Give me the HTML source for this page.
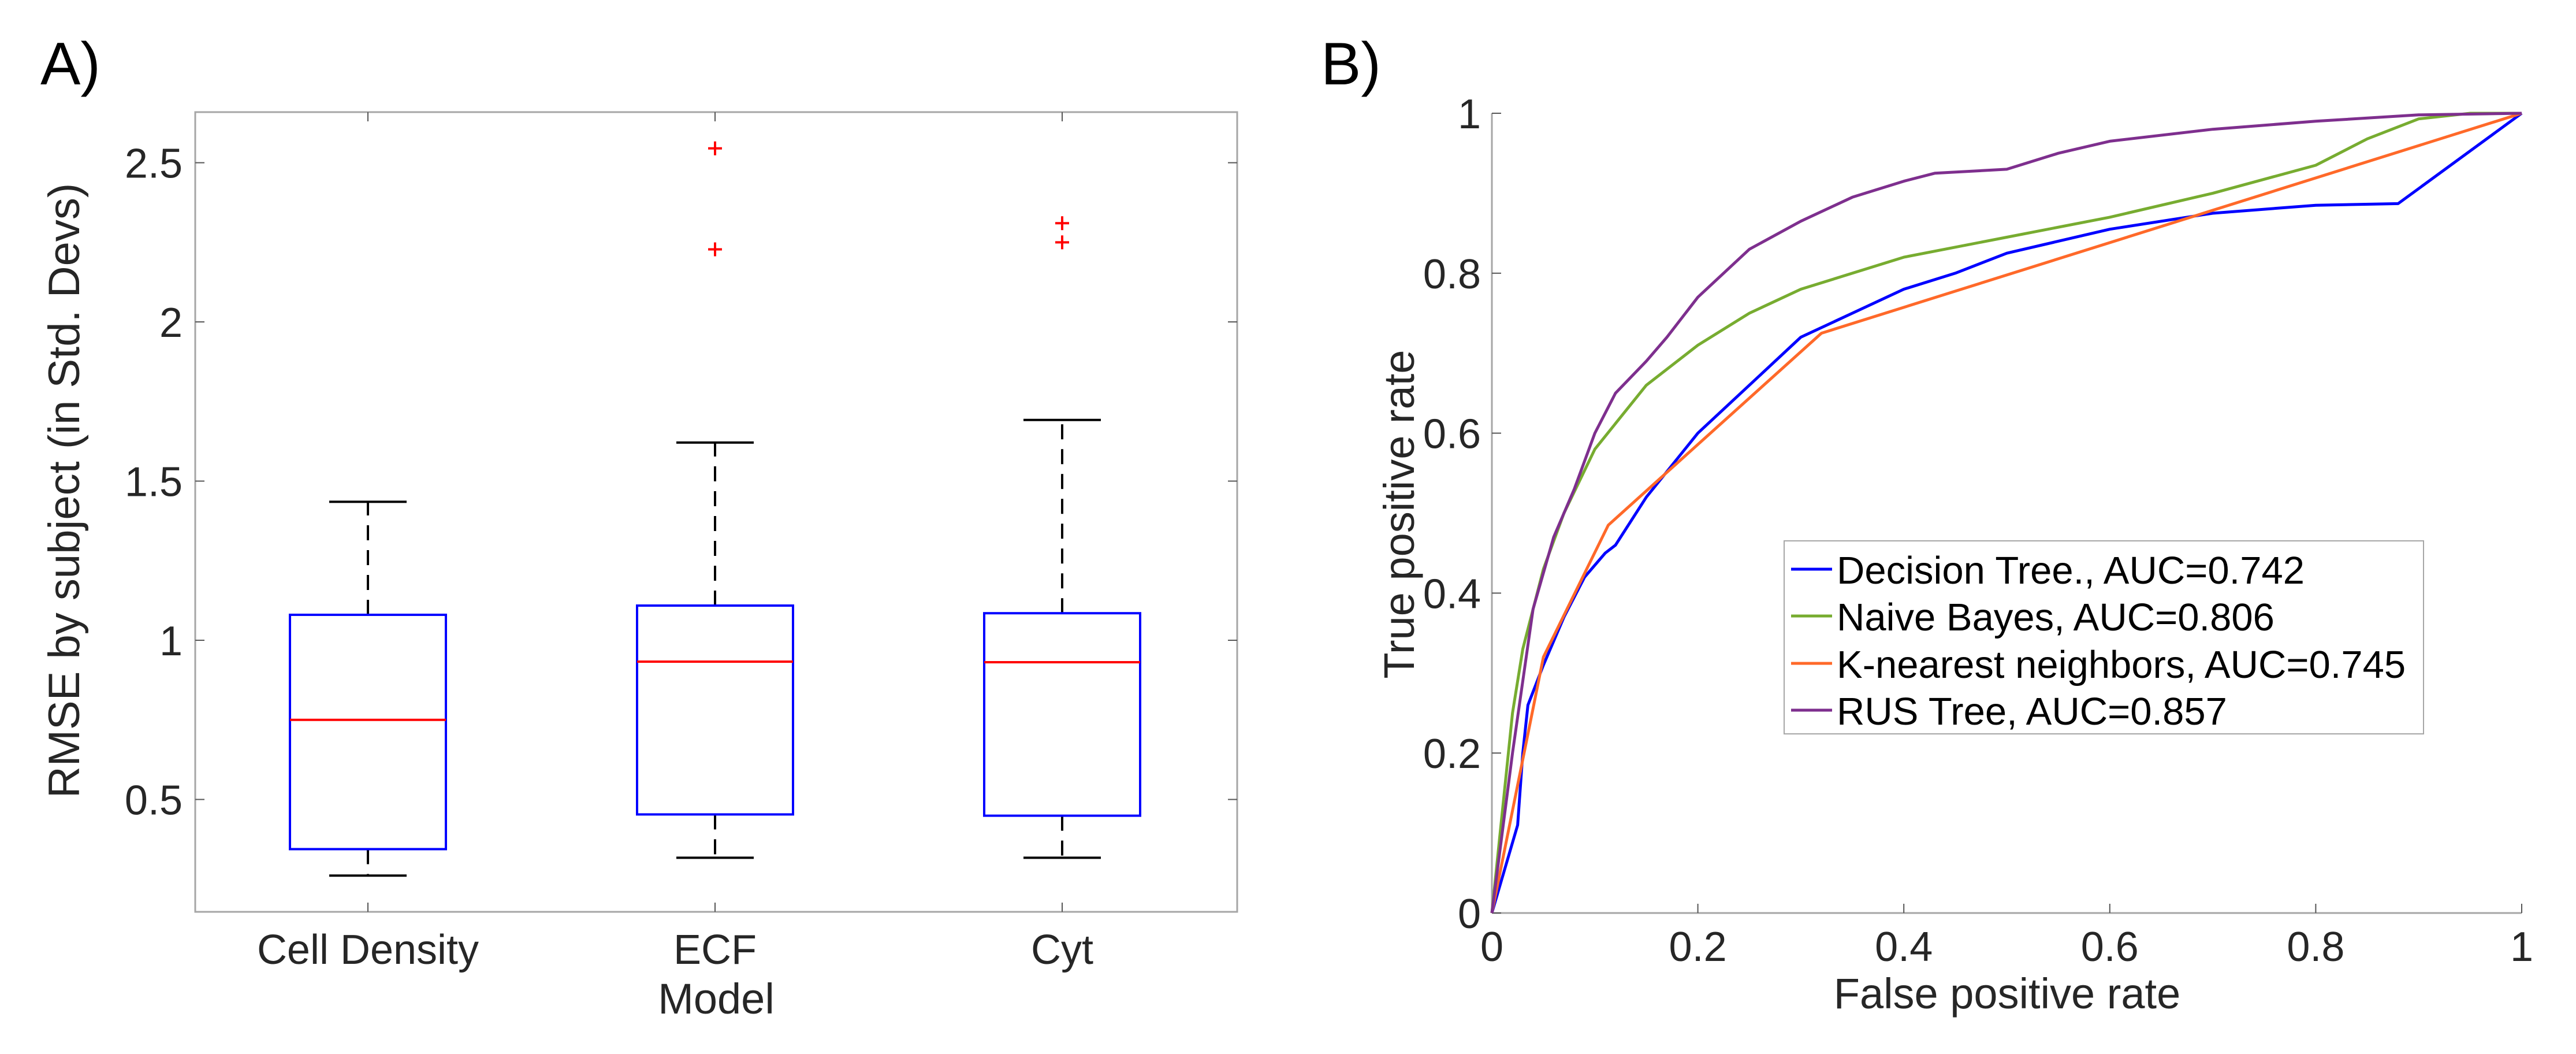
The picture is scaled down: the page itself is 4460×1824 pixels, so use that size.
<!DOCTYPE html>
<html><head><meta charset="utf-8"><style>
html,body{margin:0;padding:0;background:#fff;}
svg{display:block;font-family:"Liberation Sans",sans-serif;}
</style></head><body>
<svg id="fig" width="4460" height="1824" viewBox="0 0 4460 1824" xmlns="http://www.w3.org/2000/svg">
<rect width="4460" height="1824" fill="#fff"/>
<text x="70" y="146" font-size="104" fill="#000">A)</text>
<text x="2287" y="146" font-size="104" fill="#000">B)</text>
<g id="boxplot"></g>
<g id="roc"></g>
</svg>
<script>
// ---- Box plot data ----
const boxCategories = ["Cell Density", "ECF", "Cyt"];
const whiskerLow = [0.261, 0.317, 0.317];
const q1Values = [0.344, 0.453, 0.449];
const medianValues = [0.750, 0.933, 0.931];
const q3Values = [1.080, 1.109, 1.085];
const whiskerHigh = [1.435, 1.621, 1.692];
const outlierValues = [[], [2.545, 2.228], [2.31, 2.25]];
const boxYTicks = [0.5, 1, 1.5, 2, 2.5];
const boxYTickLabels = ["0.5", "1", "1.5", "2", "2.5"];

// ---- ROC data ----
const rocLabels = ["Decision Tree., AUC=0.742", "Naive Bayes, AUC=0.806", "K-nearest neighbors, AUC=0.745", "RUS Tree, AUC=0.857"];
const rocColors = ["#0000ff", "#77ac30", "#ff6929", "#7e2f8e"];
const dtFpr = [0,0.025,0.03,0.035,0.05,0.07,0.09,0.11,0.12,0.15,0.2,0.25,0.3,0.35,0.4,0.45,0.5,0.6,0.7,0.8,0.88,1];
const dtTpr = [0,0.11,0.2,0.26,0.31,0.37,0.42,0.45,0.46,0.52,0.6,0.66,0.72,0.75,0.78,0.8,0.825,0.855,0.875,0.885,0.887,1];
const nbFpr = [0,0.02,0.03,0.05,0.07,0.1,0.15,0.2,0.25,0.3,0.4,0.5,0.6,0.7,0.8,0.85,0.9,0.95,1];
const nbTpr = [0,0.25,0.33,0.43,0.5,0.58,0.66,0.71,0.75,0.78,0.82,0.845,0.87,0.9,0.935,0.968,0.993,1,1];
const knnFpr = [0,0.05,0.113,0.32,1];
const knnTpr = [0,0.32,0.485,0.725,1];
const rusFpr = [0,0.02,0.04,0.06,0.08,0.1,0.12,0.15,0.17,0.2,0.25,0.3,0.35,0.4,0.43,0.5,0.55,0.6,0.7,0.8,0.9,1];
const rusTpr = [0,0.2,0.38,0.47,0.53,0.6,0.65,0.69,0.72,0.77,0.83,0.865,0.895,0.915,0.925,0.93,0.95,0.965,0.98,0.99,0.998,1];
const rocTicks = [0, 0.2, 0.4, 0.6, 0.8, 1];
const rocTickLabels = ["0", "0.2", "0.4", "0.6", "0.8", "1"];

const NS = "http://www.w3.org/2000/svg";
function mk(parent, tag, attrs, text) {
  const e = document.createElementNS(NS, tag);
  for (const k in attrs) e.setAttribute(k, attrs[k]);
  if (text !== undefined) e.textContent = text;
  parent.appendChild(e);
  return e;
}

// ===== Box plot =====
(function(){
  const g = document.getElementById("boxplot");
  const L = 338, R = 2142, T = 194, B = 1578;
  const yMin = 0.147, yMax = 2.659;
  const y = v => B - (v - yMin) / (yMax - yMin) * (B - T);
  const x = i => L + (i + 0.5) / 3 * (R - L) + (i - 1) * 0;
  const xc = i => [637, 1238, 1839][i];
  const ax = mk(g, "rect", {x:L, y:T, width:R-L, height:B-T, fill:"none", stroke:"#a6a6a6", "stroke-width":3});
  
  
  boxYTicks.forEach((v, i) => {
    const yy = y(v);
    const t1 = mk(g, "line", {x1:L, x2:L+16, y1:yy, y2:yy, stroke:"#555", "stroke-width":2});
    
    
    const t2 = mk(g, "line", {x1:R-16, x2:R, y1:yy, y2:yy, stroke:"#555", "stroke-width":2});
    
    
    const lb = mk(g, "text", {x:316, y:yy+26, "font-size":72, "text-anchor":"end", fill:"#262626"}, boxYTickLabels[i]);
    
    
  });
  boxCategories.forEach((c, i) => {
    const cx = xc(i);
    const tk = mk(g, "line", {x1:cx, x2:cx, y1:B-16, y2:B, stroke:"#555", "stroke-width":2});
    
    
    const tk2 = mk(g, "line", {x1:cx, x2:cx, y1:T, y2:T+16, stroke:"#555", "stroke-width":2});
    
    
    const lb = mk(g, "text", {x:cx, y:1668, "font-size":72, "text-anchor":"middle", fill:"#262626"}, c);
    
    
    const w1 = mk(g, "line", {x1:cx, x2:cx, y1:y(q3Values[i]), y2:y(whiskerHigh[i]), stroke:"#000", "stroke-width":4, "stroke-dasharray":"26,17"});
    
    
    const w2 = mk(g, "line", {x1:cx, x2:cx, y1:y(q1Values[i]), y2:y(whiskerLow[i]), stroke:"#000", "stroke-width":4, "stroke-dasharray":"26,17"});
    
    
    const c1 = mk(g, "line", {x1:cx-67, x2:cx+67, y1:y(whiskerHigh[i]), y2:y(whiskerHigh[i]), stroke:"#000", "stroke-width":4});
    
    
    const c2 = mk(g, "line", {x1:cx-67, x2:cx+67, y1:y(whiskerLow[i]), y2:y(whiskerLow[i]), stroke:"#000", "stroke-width":4});
    
    
    const bx = mk(g, "rect", {x:cx-135, y:y(q3Values[i]), width:270, height:y(q1Values[i])-y(q3Values[i]), fill:"none", stroke:"#0000ff", "stroke-width":4});
    
    
    const md = mk(g, "line", {x1:cx-135, x2:cx+135, y1:y(medianValues[i]), y2:y(medianValues[i]), stroke:"#ff0000", "stroke-width":4});
    
    
    outlierValues[i].forEach(v => {
      const oy = y(v);
      const o = mk(g, "path", {d:`M${cx-12},${oy}H${cx+12}M${cx},${oy-12}V${oy+12}`, stroke:"#ff0000", "stroke-width":4});
      
      
    });
  });
  const yl = mk(g, "text", {x:0, y:0, "font-size":76, "text-anchor":"middle", fill:"#262626", transform:"translate(137,849) rotate(-90)"}, "RMSE by subject (in Std. Devs)");
  
  
  const xl = mk(g, "text", {x:1240, y:1754, "font-size":74, "text-anchor":"middle", fill:"#262626"}, "Model");
  
  
})();

// ===== ROC =====
(function(){
  const g = document.getElementById("roc");
  const L = 2583, R = 4366, T = 196, B = 1580;
  const x = v => L + v * (R - L);
  const y = v => B - v * (B - T);
  const a1 = mk(g, "line", {x1:L, x2:R, y1:B, y2:B, stroke:"#a6a6a6", "stroke-width":3});
  
  
  const a2 = mk(g, "line", {x1:L, x2:L, y1:T, y2:B, stroke:"#a6a6a6", "stroke-width":3});
  
  
  rocTicks.forEach((v, i) => {
    const tx = mk(g, "line", {x1:x(v), x2:x(v), y1:B, y2:B-16, stroke:"#555", "stroke-width":2});
    
    
    const ty = mk(g, "line", {x1:L, x2:L+16, y1:y(v), y2:y(v), stroke:"#555", "stroke-width":2});
    
    
    const xl = mk(g, "text", {x:x(v), y:1663, "font-size":72, "text-anchor":"middle", fill:"#262626"}, rocTickLabels[i]);
    
    
    const yl = mk(g, "text", {x:2564, y:y(v)+26, "font-size":72, "text-anchor":"end", fill:"#262626"}, rocTickLabels[i]);
    
    
  });
  const series = [[dtFpr, dtTpr], [nbFpr, nbTpr], [knnFpr, knnTpr], [rusFpr, rusTpr]];
  const names = ['decision-tree-curve', 'naive-bayes-curve', 'knn-curve', 'rus-tree-curve'];
  series.forEach((s, k) => {
    const pts = s[0].map((f, i) => x(f).toFixed(1) + "," + y(s[1][i]).toFixed(1)).join(" ");
    const pl = mk(g, "polyline", {points:pts, fill:"none", stroke:rocColors[k], "stroke-width":5, "stroke-linejoin":"round"});
    
    
  });
  const lg = mk(g, "g", {});
  
  
  const lb = mk(lg, "rect", {x:3089, y:936, width:1107, height:334, fill:"#fff", stroke:"#a6a6a6", "stroke-width":2});
  
  
  const ly = [985, 1066, 1148, 1229];
  rocLabels.forEach((t, k) => {
    const ln = mk(lg, "line", {x1:3101, x2:3172, y1:ly[k], y2:ly[k], stroke:rocColors[k], "stroke-width":5});
    
    
    const tx = mk(lg, "text", {x:3180, y:ly[k]+25, "font-size":67, fill:"#000"}, t);
    
    
  });
  const yt = mk(g, "text", {x:0, y:0, "font-size":74, "text-anchor":"middle", fill:"#262626", transform:"translate(2448,890) rotate(-90)"}, "True positive rate");
  
  
  const xt = mk(g, "text", {x:3475, y:1745, "font-size":74, "text-anchor":"middle", fill:"#262626"}, "False positive rate");
  
  
})();
</script>
</body></html>
